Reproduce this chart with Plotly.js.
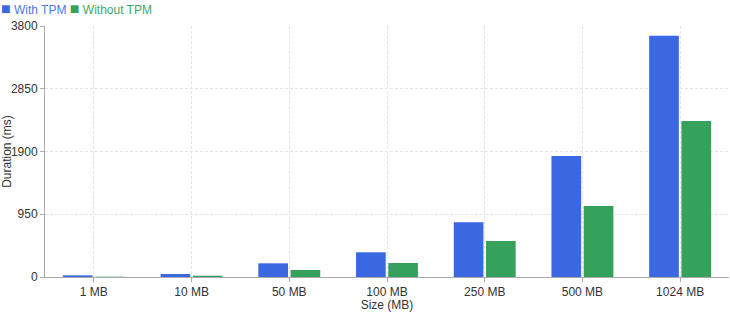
<!DOCTYPE html>
<html>
<head>
<meta charset="utf-8">
<script src="https://cdn.plot.ly/plotly-3.0.1.min.js"></script>
<style>html,body{margin:0;padding:0;background:#fff;}#chart{width:730px;height:312px;}</style>
</head>
<body>
<div id="chart"></div>
<script>
const categories = ["1 MB", "10 MB", "50 MB", "100 MB", "250 MB", "500 MB", "1024 MB"];
const withTPM = [25, 45, 207, 374, 828, 1832, 3652];
const withoutTPM = [5, 20, 106, 212, 545, 1075, 2360];
const seriesNames = ["With TPM", "Without TPM"];
const yTicks = [0, 950, 1900, 2850, 3800];
const blue = "#3a67e2";
const green = "#35a15b";
const blueText = "#4f78e8";
const greenText = "#3fa862";

const traces = [
  {type: "bar", x: categories, y: withTPM, name: seriesNames[0], marker: {color: blue}},
  {type: "bar", x: categories, y: withoutTPM, name: seriesNames[1], marker: {color: green}}
];

const sq = (c) => '<span style="color:' + c + ';font-size:16px">■</span>';
const legendText =
  sq(blue) + '<span style="color:' + blueText + '"> ' + seriesNames[0] + '</span> ' +
  sq(green) + '<span style="color:' + greenText + '"> ' + seriesNames[1] + '</span>';

const layout = {
  width: 730, height: 312,
  margin: {l: 45, r: 1, t: 26, b: 35, pad: 0},
  paper_bgcolor: "#fff", plot_bgcolor: "#fff",
  font: {family: "Liberation Sans, Arial, sans-serif", size: 12, color: "#333"},
  barmode: "group", bargap: 0.34, bargroupgap: 0.08,
  showlegend: false,
  annotations: [{
    text: legendText, xref: "paper", yref: "paper", x: -0.066, y: 1.108,
    xanchor: "left", yanchor: "top", showarrow: false, align: "left",
    font: {size: 12, family: "Liberation Sans, Arial, sans-serif"}, borderpad: 0
  }],
  xaxis: {
    title: {text: "Size (MB)", font: {size: 12, color: "#333"}, standoff: 2},
    showline: true, linecolor: "#aaa", linewidth: 1,
    ticks: "outside", ticklen: 4, tickcolor: "#aaa",
    showgrid: true, gridcolor: "#e4e4e4", griddash: "3px,2px",
    tickfont: {size: 12, color: "#333"}, automargin: false
  },
  yaxis: {
    title: {text: "Duration (ms)", font: {size: 12, color: "#333"}, standoff: 4},
    range: [0, 3800], tickvals: yTicks, ticktext: yTicks.map(String),
    showline: true, linecolor: "#aaa", linewidth: 1,
    ticks: "outside", ticklen: 4, tickcolor: "#aaa",
    showgrid: true, gridcolor: "#e4e4e4", griddash: "3px,2px",
    zeroline: false, tickfont: {size: 12, color: "#333"}, automargin: false
  }
};
Plotly.newPlot("chart", traces, layout, {displayModeBar: false, staticPlot: true});
</script>
</body>
</html>
